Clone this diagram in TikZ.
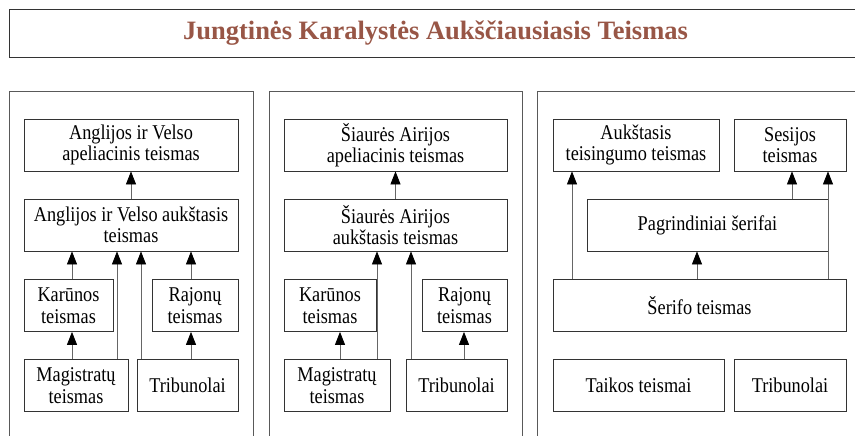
\documentclass[tikz,border=0pt]{standalone}
\usepackage{fontspec}
\setmainfont{Liberation Serif}[FakeStretch=0.87]
\newfontfamily\titlefont{Liberation Serif}
\usepackage{xcolor}
\usetikzlibrary{arrows.meta}
\definecolor{titlebrown}{RGB}{152,86,70}

\begin{document}
\begin{tikzpicture}[x=1pt,y=-1pt,
  box/.style={draw=black!80,line width=0.8pt,align=center,inner sep=2pt,font=\fontsize{21}{21.5}\selectfont,minimum height=52pt},
  panel/.style={draw=black!65,line width=0.8pt},
  arr/.style={->,draw=black!60,line width=0.8pt},
  >={Triangle[length=13pt,width=10pt,black]}]
\useasboundingbox (0,0) rectangle (855,436);
\clip (0,0) rectangle (855,436);
\node[draw=black!80,line width=0.8pt,minimum width=853pt,minimum height=48pt,text=titlebrown,font=\titlefont\fontsize{26.5}{30}\selectfont\bfseries] (uksc) at (435.5,33) {Jungtinės Karalystės Aukščiausiasis Teismas};
% three jurisdictions
\draw[panel] (9,450) rectangle (253,91);
\draw[panel] (269,450) rectangle (522,91);
\draw[panel] (537,450) rectangle (880,91);
% England and Wales
\node[box,minimum width=214pt] (ewAppeal) at (131,145) {Anglijos ir Velso\\apeliacinis teismas};
\node[box,minimum width=214pt] (ewHigh) at (131,225) {Anglijos ir Velso aukštasis\\teismas};
\node[box,minimum width=89pt] (ewCrown) at (68.5,305.5) {Karūnos\\teismas};
\node[box,minimum width=86pt] (ewCounty) at (195,305.5) {Rajonų\\teismas};
\node[box,minimum width=104pt] (ewMag) at (76,385.5) {Magistratų\\teismas};
\node[box,minimum width=101pt] (ewTrib) at (187.5,385.5) {Tribunolai};
\draw[arr] (ewHigh) -- (ewAppeal);
\draw[arr] (72,0 |- ewCrown.north) -- (72,0 |- ewHigh.south);
\draw[arr] (72,0 |- ewMag.north) -- (72,0 |- ewCrown.south);
\draw[arr] (117,0 |- ewMag.north) -- (117,0 |- ewHigh.south);
\draw[arr] (141,0 |- ewTrib.north) -- (141,0 |- ewHigh.south);
\draw[arr] (191,0 |- ewTrib.north) -- (191,0 |- ewCounty.south);
\draw[arr] (191,0 |- ewCounty.north) -- (191,0 |- ewHigh.south);
% Northern Ireland
\node[box,minimum width=223pt] (niAppeal) at (395.5,145) {Šiaurės Airijos\\apeliacinis teismas};
\node[box,minimum width=223pt] (niHigh) at (395.5,225) {Šiaurės Airijos\\aukštasis teismas};
\node[box,minimum width=92pt] (niCrown) at (330,305.5) {Karūnos\\teismas};
\node[box,minimum width=85pt] (niCounty) at (464.5,305.5) {Rajonų\\teismas};
\node[box,minimum width=106pt] (niMag) at (337,385.5) {Magistratų\\teismas};
\node[box,minimum width=101pt] (niTrib) at (456.5,385.5) {Tribunolai};
\draw[arr] (niHigh) -- (niAppeal);
\draw[arr] (340,0 |- niMag.north) -- (340,0 |- niCrown.south);
\draw[arr] (377,0 |- niMag.north) -- (377,0 |- niHigh.south);
\draw[arr] (411,0 |- niTrib.north) -- (411,0 |- niHigh.south);
\draw[arr] (464,0 |- niTrib.north) -- (464,0 |- niCounty.south);
% Scotland
\node[box,minimum width=166pt] (scJust) at (636,145) {Aukštasis\\teisingumo teismas};
\node[box,minimum width=112pt] (scSess) at (790,145) {Sesijos\\teismas};
\node[box,minimum width=241pt] (scPrinc) at (707.5,225) {Pagrindiniai šerifai};
\node[box,minimum width=293pt] (scSheriff) at (699.5,305.5) {Šerifo teismas};
\node[box,minimum width=171pt] (scPeace) at (638.5,385.5) {Taikos teismai};
\node[box,minimum width=112pt] (scTrib) at (790,385.5) {Tribunolai};
\draw[arr] (572,0 |- scSheriff.north) -- (572,0 |- scJust.south);
\draw[arr] (697,0 |- scSheriff.north) -- (697,0 |- scPrinc.south);
\draw[arr] (792,0 |- scPrinc.north) -- (792,0 |- scSess.south);
\draw[arr] (828,0 |- scSheriff.north) -- (828,0 |- scSess.south);
\end{tikzpicture}
\end{document}
